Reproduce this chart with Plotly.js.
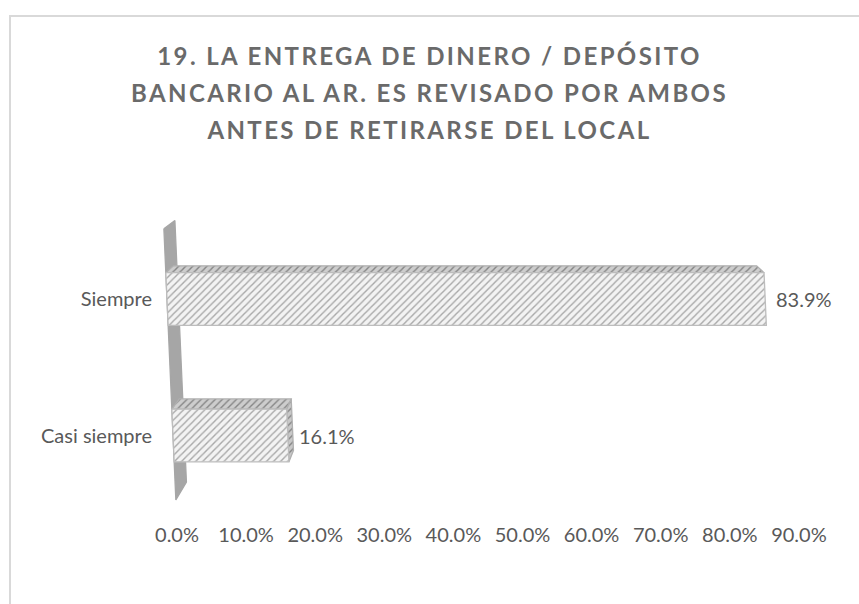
<!DOCTYPE html>
<html><head><meta charset="utf-8">
<script src="https://cdn.plot.ly/plotly-3.0.1.min.js"></script>
<style>
html,body{margin:0;padding:0;background:#fff;}
#frame{position:absolute;left:9px;top:15px;width:900px;height:700px;border-left:2px solid #d9d9d9;border-top:2px solid #d9d9d9;box-sizing:border-box;}
#chart{position:absolute;left:0;top:0;width:859px;height:604px;}
</style></head><body>
<div id="frame"></div>
<div id="chart"></div>
<script>
// ---- data ----
const categories = ['Casi siempre', 'Siempre'];
const values = [16.1, 83.9];
const tickVals = [0, 10, 20, 30, 40, 50, 60, 70, 80, 90];
const tickText = ['0.0%', '10.0%', '20.0%', '30.0%', '40.0%', '50.0%', '60.0%', '70.0%', '80.0%', '90.0%'];
const titleLines = ['19. LA ENTREGA DE DINERO / DEPÓSITO', 'BANCARIO AL AR. ES REVISADO POR AMBOS', 'ANTES DE RETIRARSE DEL LOCAL'];

// ---- 3D look (style constants) ----
const FONT = "Lato, 'Open Sans', sans-serif";
const SHEAR = 0.845;      // x shift per category unit (rotation)
const HALF = 0.193;       // half bar thickness (category units)
const VP = [41.65, 3.19]; // vanishing point (data units)
const K = 0.975;          // depth factor for bars
const KW = 0.964;         // depth factor for side wall
const WALL_Y = [1.515, -0.4725];
const FLOOR_SCALE = 6.91 / 7.13, FLOOR_OFF = -2.805 + 24 / 7.13; // floor (tick) line in perspective

function front(v, y) { return [v - SHEAR * y, y]; }
function back(p, k) { return [VP[0] + (p[0] - VP[0]) * k, VP[1] + (p[1] - VP[1]) * k]; }
function floorX(t) { return FLOOR_OFF + t * FLOOR_SCALE; }
function poly(pts) { const c = pts.concat([pts[0]]); return { x: c.map(p => p[0]), y: c.map(p => p[1]) }; }

const traces = [];
function face(pts, fill, bg, fg, lineColor) {
  const p = poly(pts);
  traces.push({
    type: 'scatter', mode: 'lines', x: p.x, y: p.y,
    fill: 'toself', fillcolor: bg,
    fillpattern: fill ? { shape: '/', size: 5, solidity: 0.28, fgcolor: fg, bgcolor: bg, fillmode: 'replace' } : undefined,
    line: { color: lineColor, width: 1.3 }, hoverinfo: 'skip', showlegend: false
  });
}

// side wall
{
  const a = front(0, WALL_Y[0]), b = front(0, WALL_Y[1]);
  face([a, b, back(b, KW), back(a, KW)], false, '#a6a6a6', null, '#a6a6a6');
}

const annotations = [];
values.forEach((v, i) => {
  const tl = front(0, i + HALF), tr = front(v, i + HALF);
  const bl = front(0, i - HALF), br = front(v, i - HALF);
  face([tl, tr, back(tr, K), back(tl, K)], true, '#cdcdcd', '#858585', '#b0b0b0');
  if (tr[0] < VP[0]) face([tr, br, back(br, K), back(tr, K)], true, '#c8c8c8', '#858585', '#b0b0b0');
  face([tl, tr, br, bl], true, '#f3f3f3', '#a8a8a8', '#bdbdbd');
  const c = front(v, i);
  annotations.push({
    xref: 'x', yref: 'y', x: c[0], y: c[1], text: v.toFixed(1) + '%',
    showarrow: false, xanchor: 'left', xshift: 9,
    font: { family: FONT, size: 20, color: '#595959' }
  });
});

const layout = {
  width: 859, height: 604,
  margin: { l: 153, r: 9, t: 200, b: 83 },
  paper_bgcolor: 'rgba(0,0,0,0)', plot_bgcolor: 'rgba(0,0,0,0)',
  showlegend: false,
  title: {
    text: titleLines.join('<br>'),
    x: 0.5, xanchor: 'center', y: 1 - 65 / 604, yanchor: 'top',
    font: { family: FONT, size: 24, color: '#6a6a6a', weight: 'bold' }
  },
  xaxis: {
    range: [-2.805, 94.95], tickvals: tickVals.map(floorX), ticktext: tickText,
    showgrid: false, zeroline: false, showline: false, ticks: '',
    tickfont: { family: FONT, size: 20, color: '#595959' }, fixedrange: true
  },
  yaxis: {
    range: [-0.6264, 1.7253], tickvals: categories.map((c, i) => i), ticktext: categories,
    showgrid: false, zeroline: false, showline: false, ticks: '',
    tickfont: { family: FONT, size: 20, color: '#595959' }, fixedrange: true
  },
  annotations: annotations
};

Plotly.newPlot('chart', traces, layout, { staticPlot: true }).then(() => {
  const t = document.querySelector('.gtitle');
  if (t) {
    const lines = t.querySelectorAll('tspan.line');
    const first = lines.length ? lines[0] : t;
    t.style.letterSpacing = '0px';
    const w = first.getComputedTextLength();
    const n = titleLines[0].length - 1;
    t.style.letterSpacing = Math.max(0, (542 - w) / n).toFixed(2) + 'px';
    lines.forEach((s, i) => { s.setAttribute('dy', (i * 1.55).toFixed(2) + 'em'); });
  }
});
</script>
</body></html>
